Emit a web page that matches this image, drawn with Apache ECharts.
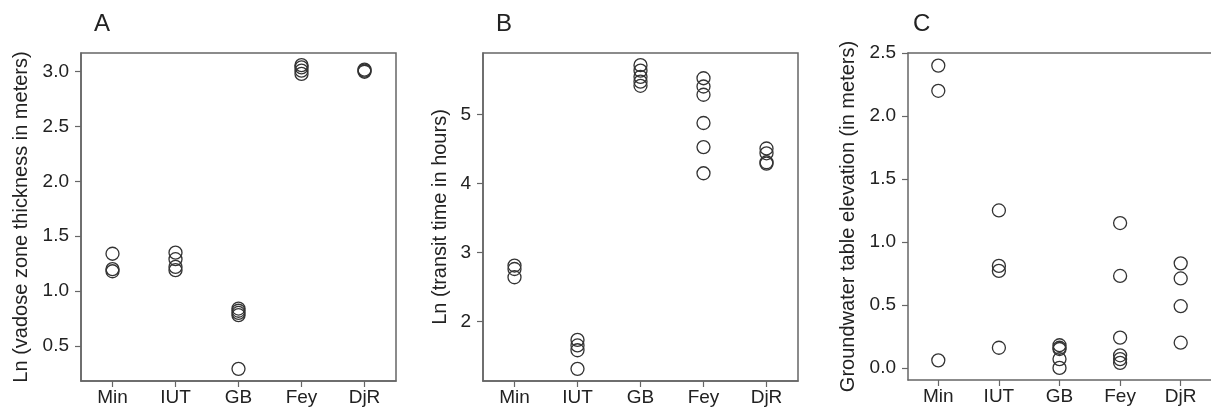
<!DOCTYPE html>
<html>
<head>
<meta charset="utf-8">
<script src="https://cdn.jsdelivr.net/npm/echarts@6/dist/echarts.min.js"></script>
<style>
html,body{margin:0;padding:0;background:#fff;}
#c{width:1211px;height:414px;}
</style>
</head>
<body>
<div id="c"></div>
<script>
// ---- data ----
const categories = ["Min", "IUT", "GB", "Fey", "DjR"];

// Panel A: Ln (vadose zone thickness in meters)
const vadoseMin = [1.34, 1.20, 1.18];
const vadoseIUT = [1.35, 1.29, 1.22, 1.19];
const vadoseGB  = [0.84, 0.82, 0.80, 0.78, 0.29];
const vadoseFey = [3.06, 3.04, 3.01, 2.98];
const vadoseDjR = [3.02, 3.01, 3.00];

// Panel B: Ln (transit time in hours)
const transitMin = [2.81, 2.76, 2.64];
const transitIUT = [1.73, 1.65, 1.58, 1.31];
const transitGB  = [5.72, 5.64, 5.55, 5.48, 5.42];
const transitFey = [5.53, 5.41, 5.29, 4.88, 4.53, 4.15];
const transitDjR = [4.51, 4.44, 4.31, 4.29];

// Panel C: Groundwater table elevation (in meters)
const gwMin = [2.40, 2.20, 0.06];
const gwIUT = [1.25, 0.81, 0.77, 0.16];
const gwGB  = [0.18, 0.16, 0.15, 0.07, 0.00];
const gwFey = [1.15, 0.73, 0.24, 0.10, 0.07, 0.04];
const gwDjR = [0.83, 0.71, 0.49, 0.20];

// tick labels
const ticksA = [0.5, 1.0, 1.5, 2.0, 2.5, 3.0];
const ticksB = [2, 3, 4, 5];
const ticksC = [0.0, 0.5, 1.0, 1.5, 2.0, 2.5];

const titles = ["A", "B", "C"];
const yNames = [
  "Ln (vadose zone thickness in meters)",
  "Ln (transit time in hours)",
  "Groundwater table elevation (in meters)"
];

// ---- build ----
function pts(groups) {
  const out = [];
  groups.forEach((g, i) => g.forEach(v => out.push([i, v])));
  return out;
}
const dataA = pts([vadoseMin, vadoseIUT, vadoseGB, vadoseFey, vadoseDjR]);
const dataB = pts([transitMin, transitIUT, transitGB, transitFey, transitDjR]);
const dataC = pts([gwMin, gwIUT, gwGB, gwFey, gwDjR]);

// R-style 4% range extension
function extent(data) {
  const vs = data.map(d => d[1]);
  const lo = Math.min(...vs), hi = Math.max(...vs);
  const pad = (hi - lo) * 0.04;
  return [lo - pad, hi + pad];
}

const FONT = "Liberation Sans, Arial, sans-serif";
const TXT = "#222";
const AX = "#666";

const grids = [
  {left: 81, top: 53, width: 315, height: 328, show: true},
  {left: 483, top: 53, width: 315, height: 328, show: true},
  {left: 908, top: 53, width: 304, height: 327, show: false}
];
const nameGaps = [50, 33, 50];
const tickSets = [ticksA, ticksB, ticksC];
const fmts = [v => v.toFixed(1), v => String(v), v => v.toFixed(1)];
const datas = [dataA, dataB, dataC];

const xAxes = grids.map((g, i) => ({
  type: "category",
  gridIndex: i,
  data: categories,
  boundaryGap: true,
  axisLine: {show: true, onZero: false, lineStyle: {color: AX, width: 1.5}},
  axisTick: {show: true, alignWithLabel: true, length: 6, lineStyle: {color: AX, width: 1.2}},
  axisLabel: {fontFamily: FONT, fontSize: 19, color: TXT, margin: 7},
  splitLine: {show: false}
}));
// top frame line of panel C (its right side is cut off by the picture edge)
xAxes.push({
  type: "category",
  gridIndex: 2,
  position: "top",
  data: categories,
  axisLine: {show: true, onZero: false, lineStyle: {color: AX, width: 1.5}},
  axisTick: {show: false},
  axisLabel: {show: false},
  splitLine: {show: false}
});

const option = {
  animation: false,
  backgroundColor: "#fff",
  title: titles.map((t, i) => ({
    text: t,
    left: [89, 491, 908][i],
    top: 7,
    textStyle: {fontFamily: FONT, fontSize: 24, fontWeight: "normal", color: TXT}
  })),
  grid: grids.map(g => ({left: g.left, top: g.top, width: g.width, height: g.height,
    show: g.show, borderColor: AX, borderWidth: 1.5, backgroundColor: "transparent"})),
  xAxis: xAxes,
  yAxis: grids.map((g, i) => {
    const [lo, hi] = extent(datas[i]);
    const top = tickSets[i][tickSets[i].length - 1];
    return {
      type: "value",
      gridIndex: i,
      min: lo,
      max: (top > hi && top - hi < 0.01 * (hi - lo)) ? top : hi,
      name: yNames[i],
      nameLocation: "middle",
      nameGap: nameGaps[i],
      nameTextStyle: {fontFamily: FONT, fontSize: 20, color: TXT},
      axisLine: {show: true, onZero: false, lineStyle: {color: AX, width: 1.5}},
      axisTick: {show: true, length: 6, customValues: tickSets[i], lineStyle: {color: AX, width: 1.2}},
      axisLabel: {fontFamily: FONT, fontSize: 19, color: TXT, margin: 12,
        customValues: tickSets[i], formatter: fmts[i]},
      splitLine: {show: false}
    };
  }),
  series: datas.map((d, i) => ({
    type: "scatter",
    xAxisIndex: i,
    yAxisIndex: i,
    data: d,
    symbol: "circle",
    symbolSize: 13,
    itemStyle: {color: "rgba(0,0,0,0)", borderColor: "#333", borderWidth: 1.3, opacity: 1},
    emphasis: {disabled: true}
  }))
};

const chart = echarts.init(document.getElementById("c"), null, {renderer: "canvas"});
chart.setOption(option);
</script>
</body>
</html>
